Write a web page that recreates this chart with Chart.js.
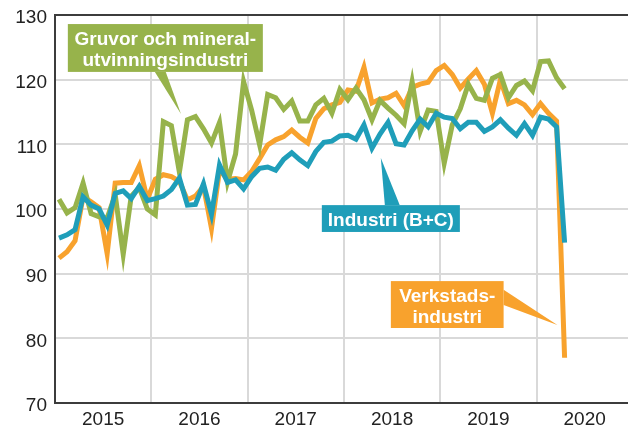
<!DOCTYPE html>
<html><head><meta charset="utf-8">
<script src="https://cdn.jsdelivr.net/npm/chart.js@4"></script>
<style>html,body{margin:0;padding:0;background:#fff}</style>
</head><body>
<canvas id="c" width="628" height="434"></canvas>
<script>
// Month index 0 = Jan 2015 ... 63 = Apr 2020
const years = ['2015','2016','2017','2018','2019','2020'];
const yTicks = [70, 80, 90, 100, 110, 120, 130];

const industriBC = [
  95.5, 96.0, 96.8, 101.9, 100.6, 100.0, 97.5, 102.4, 102.8, 101.6, 103.5, 101.3,
  101.6, 102.0, 103.0, 104.8, 100.6, 100.7, 103.9, 99.2, 106.8, 104.1, 104.5, 103.1,
  105.0, 106.3, 106.5, 106.0, 107.7, 108.7, 107.6, 106.7, 108.9, 110.3, 110.5, 111.3,
  111.4, 110.8, 113.0, 109.4, 111.6, 113.4, 110.1, 109.9, 112.1, 113.9, 112.7, 114.8,
  114.2, 114.0, 112.4, 113.4, 113.4, 112.0, 112.7, 113.8, 112.5, 111.4, 113.2, 111.4,
  114.2, 113.9, 112.7, 94.8
];
const verkstad = [
  92.4, 93.4, 95.1, 101.9, 101.1, 100.2, 93.1, 104.0, 104.1, 104.1, 106.7, 101.5,
  104.6, 105.3, 105.0, 104.3, 101.4, 102.0, 103.5, 97.0, 106.0, 104.6, 104.7, 104.5,
  105.8, 107.8, 109.9, 110.7, 111.2, 112.2, 111.1, 110.2, 114.0, 115.5, 116.1, 116.5,
  118.4, 118.2, 121.9, 116.4, 117.0, 117.2, 117.9, 116.0, 118.8, 119.3, 119.6, 121.4,
  122.2, 120.8, 118.7, 120.1, 121.4, 119.3, 114.8, 120.0, 116.3, 116.8, 116.1, 114.6,
  116.3, 114.8, 113.6, 77.0
];
const gruvor = [
  101.5, 99.4, 100.2, 104.0, 99.3, 98.8, 98.6, 102.2, 93.0, 102.0, 103.3, 100.0,
  99.1, 113.5, 112.9, 105.7, 113.8, 114.3, 112.4, 110.2, 113.4, 104.2, 108.5, 119.7,
  115.3, 109.9, 117.7, 117.2, 115.4, 116.7, 113.6, 113.6, 116.1, 117.1, 114.8, 118.5,
  116.9, 118.7, 116.9, 113.8, 116.8, 115.6, 114.5, 113.2, 119.7, 112.0, 115.3, 115.1,
  107.1, 113.0, 115.5, 119.3, 117.1, 116.8, 120.2, 120.8, 117.2, 119.1, 119.8, 118.3,
  122.8, 122.9, 120.3, 118.6
];

const GREEN = '#97b34b';
const TEAL = '#1f9eb9';
const ORANGE = '#f8a22d';
const FONT = '"Liberation Sans", Arial, sans-serif';

const toPoints = arr => arr.map((v, i) => ({ x: i, y: v }));

// Callout labels, positioned in data units (month index, value)
const callouts = [
  { lines: ['Gruvor och mineral-', 'utvinningsindustri'], color: GREEN,
    box: [1.1, 25.4, 128.6, 121.2], ptr: [[11.95, 121.2], [13.3, 121.2], [15.2, 114.7]] },
  { lines: ['Industri (B+C)'], color: TEAL,
    box: [32.75, 49.95, 100.6, 96.45], ptr: [[40.6, 100.6], [42.45, 100.6], [40.1, 107.9]] },
  { lines: ['Verkstads-', 'industri'], color: ORANGE,
    box: [41.35, 55.4, 88.85, 81.6], ptr: [[55.4, 87.5], [55.4, 85.15], [62.1, 82.05]] }
];

const calloutPlugin = {
  id: 'callouts',
  afterDatasetsDraw(chart) {
    const ctx = chart.ctx, xs = chart.scales.x, ys = chart.scales.y;
    ctx.save();
    callouts.forEach(c => {
      ctx.fillStyle = c.color;
      ctx.beginPath();
      c.ptr.forEach((p, k) => {
        const px = xs.getPixelForValue(p[0]), py = ys.getPixelForValue(p[1]);
        if (k === 0) ctx.moveTo(px, py); else ctx.lineTo(px, py);
      });
      ctx.closePath();
      ctx.fill();
      const x0 = xs.getPixelForValue(c.box[0]), x1 = xs.getPixelForValue(c.box[1]);
      const y0 = ys.getPixelForValue(c.box[2]), y1 = ys.getPixelForValue(c.box[3]);
      ctx.fillRect(x0, y0, x1 - x0, y1 - y0);
      ctx.fillStyle = '#ffffff';
      ctx.font = 'bold 19px ' + FONT;
      ctx.textAlign = 'center';
      ctx.textBaseline = 'alphabetic';
      c.lines.forEach((t, k) => ctx.fillText(t, (x0 + x1) / 2, y0 + 21 + 21 * k));
    });
    ctx.restore();
  }
};

const line = (label, data, color) => ({
  label, data: toPoints(data), borderColor: color, backgroundColor: color,
  borderWidth: 5, pointRadius: 0, tension: 0, fill: false,
  borderJoinStyle: 'miter', borderCapStyle: 'butt'
});

new Chart(document.getElementById('c'), {
  type: 'line',
  data: {
    datasets: [
      line('Industri (B+C)', industriBC, TEAL),
      line('Gruvor och mineralutvinningsindustri', gruvor, GREEN),
      line('Verkstadsindustri', verkstad, ORANGE)
    ]
  },
  options: {
    responsive: false,
    animation: false,
    layout: { padding: { top: 15, right: 0, left: 0, bottom: 0 } },
    plugins: { legend: { display: false }, tooltip: { enabled: false } },
    scales: {
      x: {
        type: 'linear', min: -0.5, max: 70.9,
        afterBuildTicks: (scale) => {
          const t = [];
          years.forEach((yr, k) => { t.push({ value: 12 * k + 5.5 }); if (k > 0) t.push({ value: 12 * k - 0.5 }); });
          t.sort((a, b) => a.value - b.value);
          scale.ticks = t;
        },
        afterFit: (scale) => { scale.height = 31; scale.paddingLeft = 0; scale.paddingRight = 0; },
        grid: {
          drawTicks: false, lineWidth: 2,
          color: (ctx) => (ctx.tick && (ctx.tick.value + 0.5) % 12 === 0) ? '#d9d9d9' : 'rgba(0,0,0,0)'
        },
        border: { display: true, color: '#3c3c3c', width: 2 },
        ticks: {
          autoSkip: false, maxRotation: 0, minRotation: 0, padding: 5,
          font: { family: FONT, size: 19 }, color: '#222',
          callback: (v) => { const m = v - 5.5; return (m % 12 === 0) ? years[m / 12] : ''; }
        }
      },
      y: {
        min: 70, max: 130,
        afterBuildTicks: (scale) => { scale.ticks = yTicks.map(v => ({ value: v })); },
        afterFit: (scale) => { scale.width = 55; scale.paddingTop = 0; scale.paddingBottom = 0; },
        grid: {
          drawTicks: false, lineWidth: 2,
          color: (ctx) => (ctx.tick && ctx.tick.value === 130) ? '#3c3c3c' : '#d9d9d9'
        },
        border: { display: true, color: '#3c3c3c', width: 2 },
        ticks: {
          padding: 8, labelOffset: 3,
          font: { family: FONT, size: 19 }, color: '#222',
          callback: (v) => String(v)
        }
      }
    }
  },
  plugins: [calloutPlugin]
});
</script>
</body></html>
